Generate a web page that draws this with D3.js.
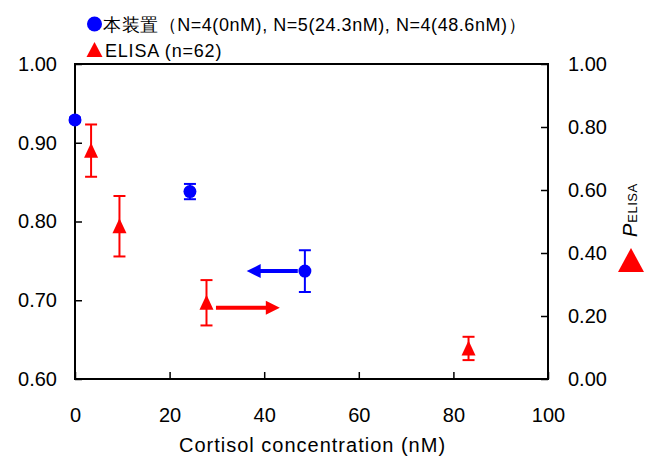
<!DOCTYPE html>
<html><head><meta charset="utf-8">
<script src="https://cdn.jsdelivr.net/npm/d3@7"></script>
<style>body{margin:0;background:#fff}svg{display:block}text{font-family:"Liberation Sans",Arial,sans-serif}</style>
</head><body><svg id="c" width="647" height="461"></svg>
<script>
const xTicks = [0, 20, 40, 60, 80, 100];
const leftTicks = [0.60, 0.70, 0.80, 0.90, 1.00];
const rightTicks = [0.00, 0.20, 0.40, 0.60, 0.80, 1.00];
const deviceConc = [0, 24.3, 48.6];
const deviceVal = [0.929, 0.838, 0.737];
const deviceErr = [0.003, 0.0097, 0.0265];
const elisaConc = [3.4, 9.4, 27.8, 83.2];
const elisaVal = [0.725, 0.485, 0.242, 0.097];
const elisaErr = [0.083, 0.096, 0.072, 0.037];
const legendLabels = ["本装置（N=4(0nM), N=5(24.3nM), N=4(48.6nM)）", "ELISA (n=62)"];
const xTitle = "Cortisol concentration (nM)";
// annotation arrows (data units): blue points to left axis, red to right axis
const arrowFromX = [47.1, 29.8];
const arrowToX = [36.3, 43.3];
const arrowYLeft = [0.737, null];
const arrowYRight = [null, 0.226];

const svg = d3.select("#c");
const L = 75, R = 548, T = 64, B = 379;
const x = d3.scaleLinear().domain([0, 100]).range([L, R]);
const yL = d3.scaleLinear().domain([0.6, 1.0]).range([B, T]);
const yR = d3.scaleLinear().domain([0, 1.0]).range([B, T]);
const BLUE = "#0000ff", RED = "#ff0000";

// frame
svg.append("rect").attr("x", L).attr("y", T).attr("width", R - L).attr("height", B - T)
  .attr("fill", "none").attr("stroke", "#000").attr("stroke-width", 2);

// axes (ticks inward)
const fmt2 = d3.format(".2f");
const ax = svg.append("g").attr("transform", `translate(0,${B})`)
  .call(d3.axisBottom(x).tickValues(xTicks).tickSize(-7).tickPadding(0).tickFormat(d3.format("d")));
ax.selectAll("text").attr("y", 29);
const al = svg.append("g").attr("transform", `translate(${L},0)`)
  .call(d3.axisLeft(yL).tickValues(leftTicks).tickSize(-7).tickPadding(18).tickFormat(fmt2));
const ar = svg.append("g").attr("transform", `translate(${R},0)`)
  .call(d3.axisRight(yR).tickValues(rightTicks).tickSize(-7).tickPadding(20).tickFormat(fmt2));
[ax, al, ar].forEach(g => {
  g.select(".domain").remove();
  g.selectAll("line").attr("stroke", "#000").attr("stroke-width", 1.5);
  g.selectAll("text").attr("font-size", 20).attr("fill", "#000")
    .attr("font-family", '"Liberation Sans",Arial,sans-serif');
});

// x title
svg.append("text").attr("x", (L + R) / 2 + 1).attr("y", 452).attr("text-anchor", "middle")
  .attr("font-size", 20).attr("letter-spacing", 1).text(xTitle);

// right axis title
const rt = svg.append("text").attr("transform", "translate(637,237) rotate(-90)")
  .attr("font-size", 20);
rt.append("tspan").attr("font-style", "italic").text("P");
rt.append("tspan").attr("font-size", 13).attr("dx", 1).attr("letter-spacing", 0.5).text("ELISA");
const bigTri = [[0, -12], [13, 12], [-13, 12]];
svg.append("path").attr("transform", "translate(631,260)")
  .attr("d", d3.line()(bigTri) + "Z").attr("fill", RED);

// error bars helper
function errBar(g, cx, yTop, yBot, color) {
  g.append("line").attr("x1", cx).attr("x2", cx).attr("y1", yTop).attr("y2", yBot)
    .attr("stroke", color).attr("stroke-width", 2);
  [yTop, yBot].forEach(yy => g.append("line").attr("x1", cx - 6).attr("x2", cx + 6)
    .attr("y1", yy).attr("y2", yy).attr("stroke", color).attr("stroke-width", 2));
}
const triPts = [[0, -8], [7, 7], [-7, 7]];

// ELISA
const ge = svg.append("g");
elisaConc.forEach((c, i) => {
  errBar(ge, x(c), yR(elisaVal[i] + elisaErr[i]), yR(elisaVal[i] - elisaErr[i]), RED);
  ge.append("path").attr("transform", `translate(${x(c)},${yR(elisaVal[i])})`)
    .attr("d", d3.line()(triPts) + "Z").attr("fill", RED);
});
// Device
const gd = svg.append("g");
deviceConc.forEach((c, i) => {
  errBar(gd, x(c), yL(deviceVal[i] + deviceErr[i]), yL(deviceVal[i] - deviceErr[i]), BLUE);
  gd.append("circle").attr("cx", x(c)).attr("cy", yL(deviceVal[i])).attr("r", 6.5).attr("fill", BLUE);
});

// arrows
function arrow(x1, x2, yy, color) {
  const dir = Math.sign(x2 - x1);
  const head = 14, hh = 7;
  svg.append("line").attr("x1", x1).attr("x2", x2 - dir * head + dir).attr("y1", yy).attr("y2", yy)
    .attr("stroke", color).attr("stroke-width", 4);
  svg.append("path").attr("d", d3.line()([[x2, yy], [x2 - dir * head, yy - hh], [x2 - dir * head, yy + hh]]) + "Z")
    .attr("fill", color);
}
arrow(x(arrowFromX[0]), x(arrowToX[0]), yL(arrowYLeft[0]), BLUE);
arrow(x(arrowFromX[1]), x(arrowToX[1]), yR(arrowYRight[1]), RED);

// legend
svg.append("circle").attr("cx", 94.5).attr("cy", 24).attr("r", 7.5).attr("fill", BLUE);
svg.append("path").attr("transform", "translate(94.5,50)")
  .attr("d", d3.line()([[0, -8], [8, 7], [-8, 7]]) + "Z").attr("fill", RED);
svg.append("text").attr("x", 103).attr("y", 31).attr("font-size", 18).attr("letter-spacing", 0.55).text(legendLabels[0]);
svg.append("text").attr("x", 105).attr("y", 57).attr("font-size", 18).attr("letter-spacing", 0.8).text(legendLabels[1]);
</script></body></html>
